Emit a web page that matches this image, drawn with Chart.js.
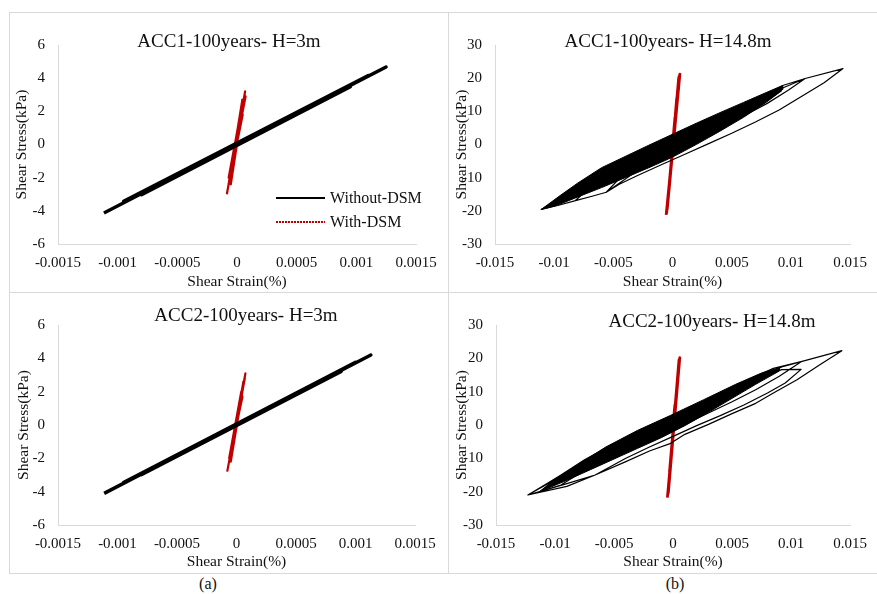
<!DOCTYPE html>
<html><head><meta charset="utf-8">
<script src="https://cdn.jsdelivr.net/npm/chart.js@4.4.1/dist/chart.umd.min.js"></script>
<style>
html,body{margin:0;padding:0;background:#fff;}
#wrap{position:relative;width:877px;height:594px;overflow:hidden;background:#fff;font-family:"Liberation Serif","Times New Roman",serif;color:#111;}
.ln{position:absolute;background:#d9d9d9;}
canvas{position:absolute;}
.t{position:absolute;white-space:nowrap;transform:translate(-50%,-50%);line-height:1;}
.lg{position:absolute;white-space:nowrap;font-size:16px;line-height:1;transform:translateY(-50%);}
.lgline{position:absolute;width:49px;}
</style></head><body><div id="wrap">
<div class="ln" style="left:9px;top:12px;width:868px;height:1px"></div>
<div class="ln" style="left:9px;top:292px;width:868px;height:1px"></div>
<div class="ln" style="left:9px;top:573px;width:868px;height:1px"></div>
<div class="ln" style="left:9px;top:12px;width:1px;height:562px"></div>
<div class="ln" style="left:448px;top:12px;width:1px;height:562px"></div>
<canvas id="c1" width="437" height="279" style="left:10px;top:13px"></canvas>
<canvas id="c2" width="428" height="279" style="left:449px;top:13px"></canvas>
<canvas id="c3" width="437" height="280" style="left:10px;top:293px"></canvas>
<canvas id="c4" width="428" height="280" style="left:449px;top:293px"></canvas>
<div class="t" style="left:229px;top:40px;font-size:19px">ACC1-100years- H=3m</div>
<div class="t" style="left:668px;top:40px;font-size:19px">ACC1-100years- H=14.8m</div>
<div class="t" style="left:246px;top:314px;font-size:19px">ACC2-100years- H=3m</div>
<div class="t" style="left:712px;top:320px;font-size:19px">ACC2-100years- H=14.8m</div>
<div class="t" style="left:208px;top:584px;font-size:16px">(a)</div>
<div class="t" style="left:675px;top:584px;font-size:16px">(b)</div>
<div class="lgline" style="left:276px;top:197px;height:1.5px;background:#000"></div>
<div class="lg" style="left:330px;top:198px">Without-DSM</div>
<div class="lgline" style="left:276px;top:221px;height:1.5px;background:repeating-linear-gradient(90deg,#c00000 0 2px,rgba(255,255,255,0) 2px 3px)"></div>
<div class="lg" style="left:330px;top:222px">With-DSM</div>
</div>
<script>
// ---- tick values / labels ----
const xTicks3m = [-0.0015, -0.001, -0.0005, 0, 0.0005, 0.001, 0.0015];
const xTickLabels3m = ["-0.0015", "-0.001", "-0.0005", "0", "0.0005", "0.001", "0.0015"];
const yTicks3m = [-6, -4, -2, 0, 2, 4, 6];
const yTickLabels3m = ["-6", "-4", "-2", "0", "2", "4", "6"];
const xTicks148 = [-0.015, -0.01, -0.005, 0, 0.005, 0.01, 0.015];
const xTickLabels148 = ["-0.015", "-0.01", "-0.005", "0", "0.005", "0.01", "0.015"];
const yTicks148 = [-30, -20, -10, 0, 10, 20, 30];
const yTickLabels148 = ["-30", "-20", "-10", "0", "10", "20", "30"];

const seriesNames = ["Without-DSM", "With-DSM"];

// ---- ACC1, H=3m ----
const acc1H3WithoutStrain = [-0.001115, 0.001249, -0.00095, 0.0011, -0.0008, 0.00095, -0.00065, 0.0008, -0.0005, 0.0006, -0.0003, 0.0004, 0];
const acc1H3WithoutStress = [-4.13, 4.67, -3.42, 4.16, -3.02, 3.48, -2.38, 3.04, -1.9, 2.2, -1.05, 1.55, 0];
const acc1H3WithStrain = [-0.000085, 0.000068, -0.000052, 0.000045, -0.000075, 0.000072, -0.00006, 0.000038, -0.00007, 0.000048, -0.00003, 0.00002, -0.00001];
const acc1H3WithStress = [-3.0, 3.2, -2.4, 2.7, -2.6, 2.9, -1.8, 2.2, -2.0, 1.8, -1.0, 1.0, 0];

// ---- ACC2, H=3m ----
const acc2H3WithoutStrain = [-0.001112, 0.001129, -0.00095, 0.001, -0.0008, 0.00088, -0.00065, 0.0007, -0.0005, 0.00055, -0.0003, 0.00035, 0];
const acc2H3WithoutStress = [-4.1, 4.2, -3.45, 3.76, -2.98, 3.22, -2.43, 2.64, -1.83, 2.02, -1.06, 1.34, 0];
const acc2H3WithStrain = [-0.000078, 0.000075, -0.000048, 0.000058, -0.00007, 0.00007, -0.000055, 0.00004, -0.000062, 0.00005, -0.00003, 0.000022, -0.000005];
const acc2H3WithStress = [-2.8, 3.1, -2.2, 2.6, -2.5, 2.8, -1.8, 2.0, -2.0, 1.7, -1.0, 1.0, 0];

// ---- ACC1, H=14.8m ----
const acc1H148CoreStrain = [-0.0111, -0.0095, -0.008, -0.006, -0.004, -0.002, 0, 0.002, 0.004, 0.006, 0.008, 0.0093,
  0.0093, 0.008, 0.006, 0.004, 0.002, 0, -0.002, -0.004, -0.006, -0.008, -0.0098, -0.0111];
const acc1H148CoreStress = [-19.6, -15.4, -11.6, -7.0, -3.6, -0.2, 3.1, 6.4, 9.6, 12.7, 15.8, 17.8,
  16.6, 13.0, 8.2, 4.0, 0.0, -3.8, -7.0, -10.0, -13.0, -15.8, -18.4, -19.6];
const acc1H148WithoutStrain = [0, 0.004, 0.0093, 0.0112, 0.0144,
  0.0128, 0.01085, 0.009, 0.007, 0.005, 0.003, 0.001, -0.001, -0.003, -0.0045, -0.0056,
  -0.0068, -0.0082, -0.0097, -0.0111,
  -0.009, -0.007, -0.005, -0.003, -0.001, 0.001, 0.003, 0.005, 0.007, 0.009, 0.0112,
  0.0098, 0.008, 0.006, 0.004, 0.002, 0, -0.002, -0.004, -0.0056, -0.0072, -0.0082,
  -0.0068, -0.005, -0.003, -0.001, 0.001, 0.003, 0.005, 0.007, 0.0092,
  0.0078, 0.006, 0.004, 0.002, 0, -0.002, -0.0035, -0.0056,
  -0.004, -0.002, 0, 0.002, 0.004];
const acc1H148WithoutStress = [-0.5, 6.0, 17.8, 19.9, 22.9,
  18.6, 14.4, 10.4, 6.8, 3.4, 0.2, -3.0, -6.2, -9.4, -12.0, -14.4,
  -15.6, -16.9, -18.4, -19.6,
  -15.4, -11.2, -7.6, -4.0, -0.6, 2.8, 6.2, 9.6, 13.0, 16.6, 19.9,
  16.4, 12.4, 8.6, 5.0, 1.6, -1.8, -5.0, -8.2, -11.2, -13.4, -16.9,
  -12.4, -8.6, -5.0, -1.6, 1.8, 5.2, 8.6, 12.2, 16.2,
  12.6, 8.8, 4.8, 1.0, -2.6, -6.0, -9.2, -14.4,
  -8.4, -4.2, -0.6, 3.0, 6.6];
const acc1H148WithStrain = [-0.00054, 0.00062, -0.00045, 0.00052, -0.0005, 0.00058, -0.0003, 0.00035, -0.00015, 0.0002, 0];
const acc1H148WithStress = [-21.2, 21.2, -19.5, 20.2, -20.6, 20.8, -14, 14, -8, 8, 0];

// ---- ACC2, H=14.8m ----
const acc2H148CoreStrain = [-0.0113, -0.0095, -0.0075, -0.0057, -0.003, -0.0002, 0.0026, 0.0053, 0.0075, 0.009,
  0.009, 0.007, 0.005, 0.003, 0.001, -0.001, -0.003, -0.005, -0.007, -0.009, -0.0113];
const acc2H148CoreStress = [-20.0, -15.2, -10.6, -6.6, -1.6, 2.9, 7.6, 12.2, 15.6, 17.2,
  16.2, 12.2, 8.0, 3.8, -0.2, -3.8, -7.0, -10.2, -13.4, -16.6, -20.0];
const acc2H148WithoutStrain = [0, 0.003, 0.006, 0.0085, 0.01085, 0.0143,
  0.0125, 0.0105, 0.0085, 0.007, 0.005, 0.003, 0.001, -0.0002, -0.002, -0.004, -0.0066, -0.009, -0.0123,
  -0.0105, -0.0085, -0.0065, -0.0045, -0.002, 0.001, 0.004, 0.007, 0.0092, 0.01085,
  0.0095, 0.008, 0.006, 0.004, 0.002, 0, -0.002, -0.004, -0.0066, -0.009, -0.0113,
  -0.0095, -0.0075, -0.0055, -0.0035, -0.001, 0.002, 0.005, 0.0075, 0.0092, 0.01085,
  0.009, 0.007, 0.005, 0.003, 0.001, -0.001, -0.003, -0.005, -0.0075, -0.0095, -0.0123,
  -0.01, -0.008, -0.006, -0.004, -0.002, 0];
const acc2H148WithoutStress = [0, 7.6, 13.0, 17.0, 19.0, 22.3,
  18.2, 13.6, 9.6, 6.5, 3.4, 0.2, -2.8, -5.5, -7.8, -11.0, -15.0, -18.4, -21.0,
  -17.2, -12.8, -8.6, -5.0, -1.0, 3.6, 8.6, 13.6, 16.6, 16.7,
  12.6, 9.6, 6.0, 2.8, -0.2, -3.4, -6.6, -10.0, -15.0, -17.6, -20.0,
  -15.0, -10.4, -6.6, -3.2, 0.8, 5.4, 10.6, 14.6, 17.4, 19.0,
  14.6, 10.6, 7.0, 3.6, 0.2, -3.0, -6.2, -9.6, -13.6, -18.0, -21.0,
  -16.4, -12.0, -8.0, -4.6, -1.4, 1.8];
const acc2H148WithStrain = [-0.00048, 0.00057, -0.0004, 0.0005, -0.00045, 0.00054, -0.0003, 0.00035, -0.0001, 0.00015, 0];
const acc2H148WithStress = [-21.8, 20.2, -20.4, 19.5, -21.0, 19.8, -14, 13, -6, 6, 0];

// ---- helpers ----
const RED = '#c00000';
const FONT = '"Liberation Serif", "Times New Roman", serif';
function pts(xs, ys) { return xs.map((x, i) => ({ x: x, y: ys[i] })); }
function lineDs(label, xs, ys, color, width, extra) {
  return Object.assign({ label: label, data: pts(xs, ys), borderColor: color, backgroundColor: color,
    borderWidth: width, pointRadius: 0, tension: 0, fill: false, borderJoinStyle: 'round' }, extra || {});
}
function makeChart(id, datasets, cfg) {
  new Chart(document.getElementById(id), {
    type: 'line',
    data: { datasets: datasets },
    options: {
      responsive: false, animation: false, events: [],
      layout: { padding: { left: 0, right: cfg.padRight, top: 32, bottom: 0 } },
      plugins: { legend: { display: false }, tooltip: { enabled: false } },
      scales: {
        x: {
          type: 'linear', min: cfg.xTicks[0], max: cfg.xTicks[cfg.xTicks.length - 1],
          afterBuildTicks: a => { a.ticks = cfg.xTicks.map(v => ({ value: v })); },
          afterFit: s => { s.height = cfg.xAxisH; },
          grid: { display: true, color: 'rgba(0,0,0,0)', drawTicks: false },
          border: { display: true, color: '#d9d9d9', width: 1 },
          ticks: { autoSkip: false, maxRotation: 0, padding: 10, color: '#111',
            font: { family: FONT, size: 15 }, callback: (v, i) => cfg.xLabels[i] },
          title: { display: true, text: 'Shear Strain(%)', color: '#111',
            font: { family: FONT, size: 15.5 }, padding: { top: 0, bottom: cfg.xTitlePad } }
        },
        y: {
          type: 'linear', min: cfg.yTicks[0], max: cfg.yTicks[cfg.yTicks.length - 1],
          afterBuildTicks: a => { a.ticks = cfg.yTicks.map(v => ({ value: v })); },
          afterFit: s => { s.width = cfg.yAxisW; },
          grid: { display: true, color: 'rgba(0,0,0,0)', drawTicks: false },
          border: { display: true, color: '#d9d9d9', width: 1 },
          ticks: { autoSkip: false, padding: 13, color: '#111',
            font: { family: FONT, size: 15 }, callback: (v, i) => cfg.yLabels[i] },
          title: { display: true, text: 'Shear Stress(kPa)', color: '#111',
            font: { family: FONT, size: 15.5 }, padding: { top: cfg.yTitlePad, bottom: 0 } }
        }
      }
    }
  });
}

makeChart('c1', [
  lineDs(seriesNames[0], acc1H3WithoutStrain, acc1H3WithoutStress, '#000', 3.5),
  lineDs(seriesNames[1], acc1H3WithStrain, acc1H3WithStress, RED, 2.2)
], { xTicks: xTicks3m, xLabels: xTickLabels3m, yTicks: yTicks3m, yLabels: yTickLabels3m,
     padRight: 31, xAxisH: 48, yAxisW: 48, xTitlePad: 1, yTitlePad: 3 });

makeChart('c2', [
  lineDs(seriesNames[0], acc1H148CoreStrain, acc1H148CoreStress, '#000', 1, { fill: 'shape' }),
  lineDs(seriesNames[0], acc1H148WithoutStrain, acc1H148WithoutStress, '#000', 1.2),
  lineDs(seriesNames[1], acc1H148WithStrain, acc1H148WithStress, RED, 2.8)
], { xTicks: xTicks148, xLabels: xTickLabels148, yTicks: yTicks148, yLabels: yTickLabels148,
     padRight: 20, xAxisH: 48, yAxisW: 46, xTitlePad: 1, yTitlePad: 4 });

makeChart('c3', [
  lineDs(seriesNames[0], acc2H3WithoutStrain, acc2H3WithoutStress, '#000', 3.5),
  lineDs(seriesNames[1], acc2H3WithStrain, acc2H3WithStress, RED, 2.2)
], { xTicks: xTicks3m, xLabels: xTickLabels3m, yTicks: yTicks3m, yLabels: yTickLabels3m,
     padRight: 32, xAxisH: 48, yAxisW: 48, xTitlePad: 2, yTitlePad: 5 });

makeChart('c4', [
  lineDs(seriesNames[0], acc2H148CoreStrain, acc2H148CoreStress, '#000', 1, { fill: 'shape' }),
  lineDs(seriesNames[0], acc2H148WithoutStrain, acc2H148WithoutStress, '#000', 1.2),
  lineDs(seriesNames[1], acc2H148WithStrain, acc2H148WithStress, RED, 2.8)
], { xTicks: xTicks148, xLabels: xTickLabels148, yTicks: yTicks148, yLabels: yTickLabels148,
     padRight: 20, xAxisH: 48, yAxisW: 47, xTitlePad: 2, yTitlePad: 4 });
</script>
</body></html>
